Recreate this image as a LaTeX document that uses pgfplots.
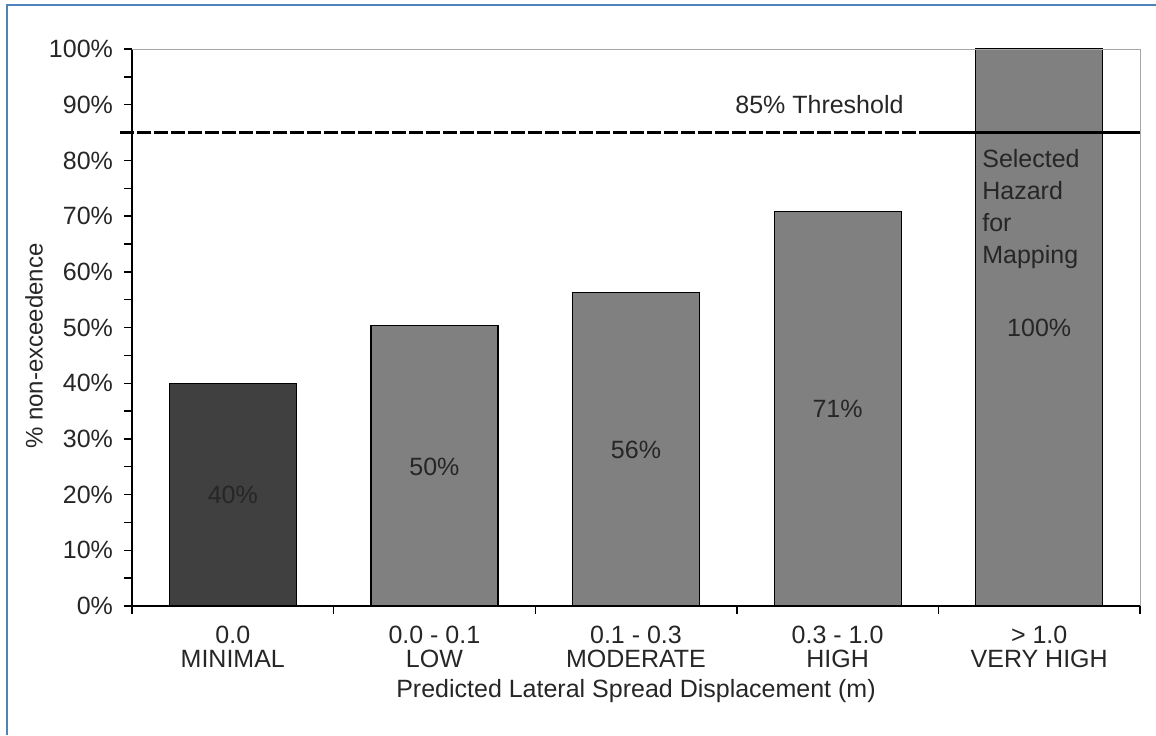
\documentclass[border=0pt]{standalone}
\usepackage{fontspec}
\setmainfont{Liberation Sans}
\usepackage{pgfplots}
\pgfplotsset{compat=1.18}
\definecolor{darkbar}{HTML}{404040}
\definecolor{graybar}{HTML}{808080}
\definecolor{framecol}{HTML}{4F81BD}
\definecolor{txt}{HTML}{262626}
\begin{document}
\begin{tikzpicture}
\useasboundingbox (0,0) rectangle (578pt,367.5pt);
\draw[framecol, line width=1.2pt] (3.5pt,0) -- (3.5pt,365pt) -- (578pt,365pt);
\begin{axis}[
  at={(66pt,64.5pt)}, anchor=south west, scale only axis,
  width=504pt, height=278.5pt,
  xmin=-0.5, xmax=4.5, ymin=0, ymax=100,
  axis lines*=left, axis line style={black, line width=0.8pt},
  ybar, bar width=63.5pt, bar shift=0pt,
  xtick={0,1,2,3,4},
  xticklabels={{0.0\\MINIMAL},{0.0 - 0.1\\LOW},{0.1 - 0.3\\MODERATE},{0.3 - 1.0\\HIGH},{> 1.0\\VERY HIGH}},
  major x tick style={draw=none},
  minor xtick={-0.5,0.5,1.5,2.5,3.5,4.5},
  ytick={0,10,20,30,40,50,60,70,80,90,100},
  yticklabels={0\%,10\%,20\%,30\%,40\%,50\%,60\%,70\%,80\%,90\%,100\%},
  minor ytick={5,15,25,35,45,55,65,75,85,95},
  tick align=outside, major tick length=4pt, minor tick length=4pt,
  every tick/.style={black, line width=0.7pt},
  xticklabel style={align=center, font=\fontsize{12.5}{12}\selectfont, text=txt, yshift=-2.5pt},
  yticklabel style={font=\fontsize{12.5}{14}\selectfont, text=txt, xshift=-2pt},
  xlabel={Predicted Lateral Spread Displacement (m)},
  xlabel style={font=\fontsize{12.5}{14}\selectfont, text=txt, yshift=1pt},
  clip=false,
]
\addplot[fill=darkbar, draw=black, line width=0.6pt] coordinates {(0,40)};
\addplot[fill=graybar, draw=black, line width=0.6pt] coordinates {(1,50.3) (2,56.3) (3,70.8) (4,100)};
\draw[gray!70, line width=0.5pt] (rel axis cs:0,1) -- (rel axis cs:1,1) -- (rel axis cs:1,0);
\draw[black, line width=1.5pt, dash pattern=on 7pt off 1.5pt] (axis cs:-0.56,85) -- (axis cs:3.46,85);
\draw[black, line width=1.5pt] (axis cs:3.46,85) -- (axis cs:4.5,85);
\node[font=\fontsize{12.5}{14}\selectfont, text=txt] at (axis cs:2.91,90.1) {85\% Threshold};
\node[font=\fontsize{12.5}{16}\selectfont, text=txt, align=left, anchor=north west, inner sep=0pt] at (axis cs:3.716,82) {Selected\\Hazard\\for\\Mapping};
\node[font=\fontsize{12.5}{14}\selectfont, text=txt] at (axis cs:0,20) {40\%};
\node[font=\fontsize{12.5}{14}\selectfont, text=txt] at (axis cs:1,25) {50\%};
\node[font=\fontsize{12.5}{14}\selectfont, text=txt] at (axis cs:2,28) {56\%};
\node[font=\fontsize{12.5}{14}\selectfont, text=txt] at (axis cs:3,35.4) {71\%};
\node[font=\fontsize{12.5}{14}\selectfont, text=txt] at (axis cs:4,50) {100\%};
\end{axis}
\node[rotate=90, font=\fontsize{12}{14}\selectfont, text=txt] at (17pt,194.5pt) {\% non-exceedence};
\end{tikzpicture}
\end{document}
